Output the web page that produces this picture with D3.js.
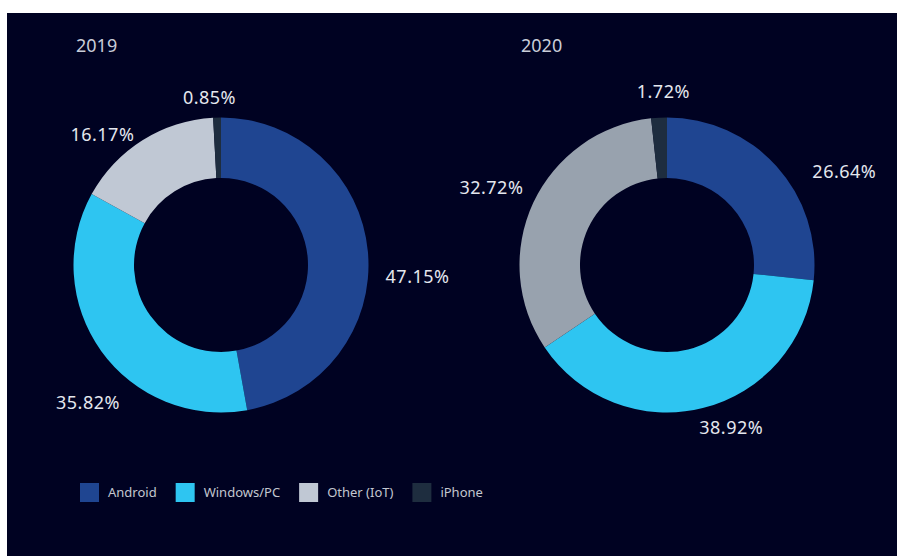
<!DOCTYPE html>
<html>

<head>
    <script src="https://d3js.org/d3.v7.min.js"></script>
    <style>
        body {
            margin: 0;
            background: #fff;
        }

        text {
            font-family: "Noto Sans", "Open Sans", sans-serif;
        }

        .title {
            font-size: 18px;
            fill: #c9cdd8;
        }

        .pct {
            font-size: 18px;
            letter-spacing: 0.5px;
            fill: #e4e7ee;
        }

        .legend text {
            font-size: 13px;
            fill: #c3c7d0;
        }
    </style>
</head>

<body>
    <div id="chart"></div>

    <script>
        // data
        const categories = ['Android', 'Windows/PC', 'Other (IoT)', 'iPhone'];
        const years = ['2019', '2020'];
        const share2019 = [47.15, 35.82, 16.17, 0.85];
        const share2020 = [26.64, 38.92, 32.72, 1.72];

        const colors2019 = ['#1f4591', '#2ec5f1', '#c0c8d4', '#1e2d3f'];
        const colors2020 = ['#1f4591', '#2ec5f1', '#98a2ae', '#1e2d3f'];

        // label nudges to mimic the original label placement: angle (deg), radius (px)
        const labelNudge = [[9, -14, -6, -2], [11, -5, 2, 2]];
        const labelPush = [[0, 9, -5, -4], [10, 0, 0, 2]];

        const width = 897;
        const height = 556;

        const svg = d3.select('#chart').append('svg')
            .attr('width', width)
            .attr('height', height);

        svg.append('rect')
            .attr('x', 7).attr('y', 13)
            .attr('width', width - 7).attr('height', height - 13)
            .attr('fill', '#000222');

        const pie = d3.pie().sort(null).value(d => d);
        const inner = 87, outer = 147.5, labelR = 165;
        const arc = d3.arc().innerRadius(inner).outerRadius(outer);

        const charts = [
            { year: years[0], values: share2019, colors: colors2019, cx: 221, tx: 76 },
            { year: years[1], values: share2020, colors: colors2020, cx: 667, tx: 521 }
        ];
        const cy = 265;

        charts.forEach((c, ci) => {
            svg.append('text')
                .attr('class', 'title')
                .attr('x', c.tx)
                .attr('y', 52)
                .text(c.year);

            const g = svg.append('g')
                .attr('transform', `translate(${c.cx},${cy})`);

            const arcs = pie(c.values);

            g.selectAll('path')
                .data(arcs)
                .enter().append('path')
                .attr('d', arc)
                .attr('fill', (d, i) => c.colors[i]);

            g.selectAll('.pct')
                .data(arcs)
                .enter().append('text')
                .attr('class', 'pct')
                .attr('text-anchor', 'middle')
                .attr('dy', '0.36em')
                .text(d => d.data.toFixed(2) + '%')
                .each(function (d, i) {
                    const w = this.getComputedTextLength();
                    const h = 13;
                    const r = labelR + labelPush[ci][i];
                    const a = (d.startAngle + d.endAngle) / 2 + labelNudge[ci][i] * Math.PI / 180;
                    const s = Math.sin(a), co = Math.cos(a);
                    const x = r * s + s * w / 2;
                    const y = -r * co - co * h / 2;
                    d3.select(this).attr('x', x).attr('y', y);
                });
        });

        // legend
        const legend = svg.append('g')
            .attr('class', 'legend')
            .attr('transform', 'translate(80,483)');

        let lx = 0;
        categories.forEach((name, i) => {
            const item = legend.append('g').attr('transform', `translate(${lx},0)`);
            item.append('rect')
                .attr('width', 19)
                .attr('height', 19)
                .attr('fill', colors2019[i]);
            const t = item.append('text')
                .attr('x', 28)
                .attr('y', 14)
                .text(name);
            lx += 28 + t.node().getComputedTextLength() + 19;
        });
    </script>
</body>

</html>
